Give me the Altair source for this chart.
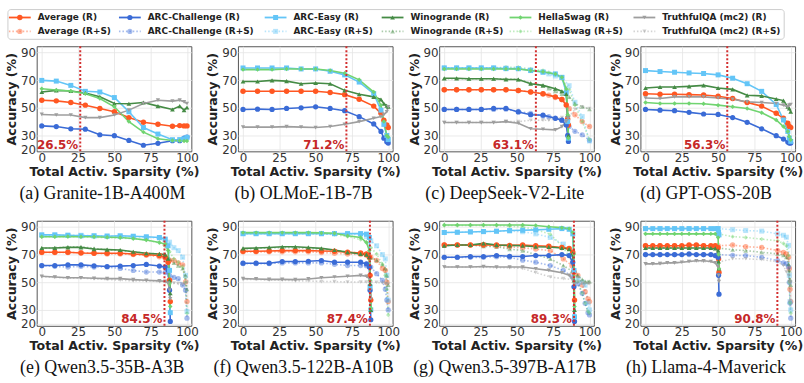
import altair as alt
import pandas as pd

BENCH = ["Average", "ARC-Challenge", "ARC-Easy", "Winogrande", "HellaSwag", "TruthfulQA (mc2)"]
COLORS = ["#ff5722", "#3a6bd6", "#63c5f7", "#458b45", "#70d470", "#9e9e9e"]
SHAPES = ["circle", "circle", "square", "triangle-up", "diamond", "triangle-down"]
SIZES = [30, 18, 18, 22, 24, 22]
VARIANTS = ["R", "R+S"]
RED = "#d32f2f"

# ---------------- (a) Granite-1B-A400M ----------------
A_TITLE = "(a) Granite-1B-A400M"
A_CUT = 26.5
A_X_R = [0, 10, 20, 30, 40, 50, 60, 70, 80, 90, 95, 98, 100]
A_R = {
    "Average":          [55.5, 55.0, 53.8, 51.9, 49.5, 47.1, 42.9, 39.5, 38.1, 36.7, 37.1, 36.9, 36.9],
    "ARC-Challenge":    [36.9, 36.4, 34.8, 34.5, 30.5, 29.8, 26.4, 22.9, 24.3, 26.2, 26.2, 28.1, 28.8],
    "ARC-Easy":         [69.8, 69.3, 66.2, 61.9, 61.4, 57.4, 47.1, 35.7, 31.0, 26.9, 27.0, 27.6, 28.6],
    "Winogrande":       [61.4, 62.6, 62.1, 60.7, 57.9, 53.1, 52.9, 53.8, 51.2, 48.8, 51.2, 48.3, 50.2],
    "HellaSwag":        [63.8, 62.9, 62.1, 60.2, 56.7, 50.7, 40.0, 32.4, 27.6, 26.4, 26.2, 26.0, 26.0],
    "TruthfulQA (mc2)": [45.2, 44.8, 44.8, 42.9, 42.9, 44.8, 48.3, 53.1, 55.5, 54.8, 55.5, 54.3, 53.1],
}
A_X_RS = []
A_RS = None

# ---------------- (b) OLMoE-1B-7B ----------------
B_TITLE = "(b) OLMoE-1B-7B"
B_CUT = 71.2
B_X_R = [0, 10, 20, 30, 40, 50, 60, 70, 80, 90, 95, 97, 99, 100]
B_R = {
    "Average":          [61.9, 61.9, 61.9, 61.9, 61.9, 61.9, 61.0, 59.5, 56.2, 51.2, 46.0, 41.0, 37.6, 35.7],
    "ARC-Challenge":    [48.8, 49.0, 48.8, 49.5, 50.0, 50.7, 49.5, 47.9, 43.6, 38.3, 32.9, 28.0, 25.5, 24.5],
    "ARC-Easy":         [78.8, 78.8, 78.8, 78.8, 78.1, 78.1, 76.4, 73.8, 68.6, 60.2, 48.3, 38.0, 30.0, 27.0],
    "Winogrande":       [69.0, 69.0, 69.8, 69.3, 67.4, 67.9, 67.4, 62.6, 59.8, 57.9, 56.0, 53.0, 51.5, 50.7],
    "HellaSwag":        [77.6, 77.6, 77.6, 78.1, 78.1, 78.1, 76.9, 75.0, 70.2, 61.4, 51.9, 40.0, 30.0, 28.8],
    "TruthfulQA (mc2)": [36.0, 36.0, 36.0, 36.4, 36.0, 35.7, 36.4, 38.1, 40.0, 42.4, 43.6, 45.0, 47.1, 50.7],
}
B_X_RS = []
B_RS = None

# ---------------- (c) DeepSeek-V2-Lite ----------------
C_TITLE = "(c) DeepSeek-V2-Lite"
C_CUT = 63.1
C_X_R = [0, 8.5, 17, 25.5, 34, 42.5, 51, 59.5, 68, 76.5, 81, 84, 85, 85.5]
C_R = {
    "Average":          [63.0, 63.0, 63.0, 63.0, 63.0, 63.0, 62.5, 61.4, 60.2, 57.9, 56.0, 52.0, 42.0, 37.6],
    "ARC-Challenge":    [48.8, 48.8, 48.8, 48.8, 49.5, 49.5, 47.0, 45.0, 44.7, 42.4, 41.0, 37.6, 30.0, 25.7],
    "ARC-Easy":         [78.8, 78.8, 78.8, 78.8, 78.8, 78.3, 78.3, 76.9, 75.7, 74.5, 72.0, 61.0, 40.0, 28.0],
    "Winogrande":       [71.4, 71.4, 71.0, 71.0, 71.0, 70.5, 70.5, 67.4, 66.2, 63.8, 62.0, 60.0, 45.0, 30.0],
    "HellaSwag":        [78.1, 78.1, 78.1, 78.1, 78.1, 78.1, 78.1, 77.0, 76.0, 74.5, 72.0, 63.6, 45.0, 28.0],
    "TruthfulQA (mc2)": [39.3, 39.3, 39.3, 39.3, 39.3, 40.0, 38.8, 34.8, 34.5, 34.0, 36.4, 40.0, 42.4, 42.4],
}
C_X_RS = [0, 8.5, 17, 25.5, 34, 42.5, 51, 59.5, 68, 72, 76.5, 81, 86, 90, 95, 100]
C_RS = {
    "Average":          [63.0, 63.0, 63.0, 63.0, 63.0, 63.0, 62.5, 61.5, 60.0, 59.0, 57.5, 56.0, 49.5, 45.0, 40.0, 36.4],
    "ARC-Challenge":    [48.8, 48.8, 48.8, 48.8, 48.8, 49.0, 47.5, 46.0, 44.0, 43.6, 42.5, 41.0, 36.4, 33.0, 30.5, 26.5],
    "ARC-Easy":         [78.8, 78.8, 78.8, 78.8, 78.8, 78.8, 78.3, 77.5, 76.0, 74.5, 73.0, 72.0, 66.0, 54.0, 43.6, 26.0],
    "Winogrande":       [71.0, 71.0, 71.0, 71.0, 71.0, 71.0, 70.5, 68.0, 66.0, 64.0, 62.0, 60.0, 57.9, 53.0, 50.7, 49.0],
    "HellaSwag":        [79.0, 79.0, 79.0, 79.0, 79.0, 79.3, 79.3, 78.0, 77.0, 75.5, 74.0, 71.0, 63.0, 52.0, 40.0, 27.0],
    "TruthfulQA (mc2)": [39.3, 39.3, 39.3, 39.3, 39.3, 40.0, 40.0, 41.0, 41.0, 41.0, 42.0, 43.0, 43.6, 48.8, 50.7, 49.5],
}

# ---------------- (d) GPT-OSS-20B ----------------
D_TITLE = "(d) GPT-OSS-20B"
D_CUT = 56.3
D_X_R = [0, 10, 20, 30, 40, 50, 60, 70, 80, 90, 95, 98, 99, 100]
D_R = {
    "Average":          [60.2, 59.8, 59.8, 59.5, 59.3, 58.3, 56.7, 53.8, 51.2, 46.0, 42.4, 38.8, 36.4, 35.7],
    "ARC-Challenge":    [48.8, 48.3, 47.9, 46.7, 45.5, 45.2, 42.9, 39.5, 34.8, 29.8, 27.4, 25.2, 24.5, 24.5],
    "ARC-Easy":         [76.9, 76.2, 75.7, 75.2, 74.8, 73.8, 71.4, 67.4, 61.9, 52.4, 41.2, 32.9, 28.1, 25.7],
    "Winogrande":       [64.3, 65.0, 65.0, 65.5, 66.2, 64.3, 63.3, 59.0, 58.6, 56.4, 55.2, 50.7, 49.5, 47.1],
    "HellaSwag":        [53.8, 53.1, 53.1, 53.1, 52.9, 51.9, 50.7, 49.5, 46.4, 41.2, 36.4, 32.9, 29.3, 26.9],
    "TruthfulQA (mc2)": [57.1, 56.7, 57.9, 57.9, 57.9, 57.1, 56.2, 54.3, 53.8, 53.1, 51.9, 50.7, 51.9, 52.4],
}
D_X_RS = []
D_RS = None

# ---------------- (e) Qwen3.5-35B-A3B ----------------
E_TITLE = "(e) Qwen3.5-35B-A3B"
E_CUT = 84.5
E_X_R = [0, 9, 18, 27, 36, 45, 54, 63, 72, 81, 85, 87, 88, 88.5]
E_R = {
    "Average":          [71.7, 71.7, 71.7, 71.2, 71.0, 71.0, 71.0, 70.5, 70.0, 69.3, 68.1, 64.5, 51.4, 36.0],
    "ARC-Challenge":    [62.1, 62.1, 62.6, 62.6, 61.9, 61.4, 61.7, 62.1, 62.9, 61.7, 61.0, 58.6, 44.3, 21.7],
    "ARC-Easy":         [84.3, 84.3, 84.0, 83.6, 83.6, 83.3, 83.6, 83.3, 82.9, 82.4, 81.2, 76.4, 58.6, 28.0],
    "Winogrande":       [74.8, 74.8, 75.2, 75.2, 74.0, 73.6, 73.3, 72.1, 71.0, 70.5, 70.0, 67.0, 51.4, 42.0],
    "HellaSwag":        [82.9, 82.9, 83.1, 82.9, 82.9, 82.6, 82.4, 81.7, 80.5, 78.8, 77.6, 72.9, 49.0, 32.4],
    "TruthfulQA (mc2)": [54.3, 53.8, 53.3, 53.3, 52.9, 52.6, 52.6, 51.9, 51.4, 51.0, 50.7, 49.5, 44.3, 38.0],
}
E_X_RS = [0, 9, 18, 27, 36, 45, 54, 63, 72, 81, 85, 88, 91, 94, 97, 99, 100]
E_RS = {
    "Average":          [71.5, 71.5, 71.5, 71.5, 71.0, 70.5, 70.5, 70.0, 69.5, 68.5, 67.5, 66.0, 65.7, 64.0, 62.6, 50.2, 36.0],
    "ARC-Challenge":    [62.0, 61.5, 61.0, 61.5, 61.0, 61.0, 60.0, 58.5, 57.4, 57.4, 57.0, 55.0, 53.5, 52.6, 48.0, 44.3, 24.0],
    "ARC-Easy":         [84.0, 84.0, 84.0, 84.0, 83.6, 83.6, 83.3, 83.0, 82.5, 82.0, 81.0, 79.0, 75.0, 72.9, 68.1, 55.0, 28.8],
    "Winogrande":       [74.5, 75.0, 75.5, 75.7, 74.5, 73.5, 73.0, 72.0, 71.0, 70.5, 69.5, 67.0, 64.0, 62.0, 60.0, 55.0, 45.0],
    "HellaSwag":        [83.0, 83.0, 83.0, 83.0, 82.5, 82.4, 82.0, 81.5, 80.5, 78.5, 76.0, 72.0, 67.0, 64.5, 61.0, 50.0, 27.6],
    "TruthfulQA (mc2)": [54.0, 53.5, 53.0, 53.0, 52.5, 52.0, 51.5, 51.0, 51.0, 50.5, 50.0, 49.5, 49.5, 49.0, 48.5, 49.0, 50.0],
}

# ---------------- (f) Qwen3.5-122B-A10B ----------------
F_TITLE = "(f) Qwen3.5-122B-A10B"
F_CUT = 87.4
F_X_R = [0, 9, 18, 27, 36, 45, 54, 63, 72, 81, 85, 87, 87.5, 88]
F_R = {
    "Average":          [72.4, 72.4, 72.6, 72.9, 72.9, 72.9, 72.6, 72.4, 71.7, 71.2, 70.5, 68.1, 55.0, 37.1],
    "ARC-Challenge":    [63.8, 63.8, 63.8, 65.0, 65.0, 65.2, 65.7, 64.5, 64.5, 64.5, 63.3, 61.0, 44.3, 22.9],
    "ARC-Easy":         [85.2, 85.2, 85.2, 85.2, 85.2, 85.2, 85.2, 85.2, 85.2, 85.2, 84.8, 82.4, 46.7, 30.0],
    "Winogrande":       [74.5, 74.8, 75.2, 75.7, 75.7, 75.2, 74.5, 73.3, 71.7, 70.5, 70.0, 68.1, 49.0, 30.0],
    "HellaSwag":        [85.9, 85.9, 85.9, 85.9, 85.9, 85.9, 85.7, 85.5, 83.6, 82.4, 78.8, 72.9, 51.4, 31.2],
    "TruthfulQA (mc2)": [52.6, 52.4, 52.1, 52.1, 51.9, 52.4, 53.3, 53.8, 54.3, 55.0, 54.3, 52.6, 44.3, 38.0],
}
F_X_RS = [0, 9, 18, 27, 36, 45, 54, 63, 72, 81, 85, 88, 92, 96, 98, 99, 100]
F_RS = {
    "Average":          [72.0, 72.0, 72.0, 72.0, 72.0, 72.0, 71.5, 71.0, 70.5, 70.0, 69.5, 68.1, 65.7, 60.0, 58.6, 50.0, 36.0],
    "ARC-Challenge":    [63.5, 63.5, 63.5, 64.0, 64.0, 64.0, 64.0, 63.0, 62.1, 62.1, 62.0, 61.0, 56.2, 51.4, 45.0, 37.1, 30.0],
    "ARC-Easy":         [85.0, 85.0, 85.0, 85.0, 85.0, 85.0, 85.0, 85.0, 84.8, 84.5, 83.0, 80.0, 76.4, 70.0, 66.9, 55.0, 37.0],
    "Winogrande":       [74.0, 74.5, 75.0, 75.0, 75.0, 74.5, 74.0, 73.0, 72.0, 71.0, 70.0, 68.0, 66.0, 63.0, 60.0, 55.0, 48.0],
    "HellaSwag":        [85.5, 85.5, 85.5, 85.5, 85.5, 85.5, 85.0, 84.5, 83.0, 81.0, 79.0, 75.2, 70.5, 63.0, 55.0, 45.0, 26.4],
    "TruthfulQA (mc2)": [52.0, 52.0, 51.5, 51.5, 51.0, 51.0, 50.5, 50.5, 50.2, 50.2, 50.2, 50.2, 50.0, 49.5, 49.0, 49.0, 48.5],
}

# ---------------- (g) Qwen3.5-397B-A17B ----------------
G_TITLE = "(g) Qwen3.5-397B-A17B"
G_CUT = 89.3
G_X_R = [0, 9, 18, 27, 36, 45, 54, 63, 72, 81, 86, 88.5, 89.3, 89.7]
G_R = {
    "Average":          [76.9, 76.9, 76.9, 77.1, 76.9, 76.7, 76.9, 76.4, 76.0, 75.2, 74.5, 71.7, 57.4, 37.1],
    "ARC-Challenge":    [68.1, 68.1, 68.6, 68.6, 69.3, 68.8, 68.6, 69.3, 69.3, 70.0, 69.3, 64.5, 46.7, 21.7],
    "ARC-Easy":         [86.0, 86.2, 86.4, 86.7, 86.9, 87.4, 87.6, 87.9, 88.3, 88.8, 88.3, 85.0, 58.6, 25.0],
    "Winogrande":       [76.4, 76.9, 76.9, 78.1, 76.9, 76.7, 76.4, 75.7, 75.5, 74.8, 74.0, 71.0, 51.4, 30.0],
    "HellaSwag":        [91.4, 91.4, 91.4, 91.4, 91.4, 91.4, 91.4, 91.0, 90.2, 89.5, 88.8, 86.0, 70.5, 32.4],
    "TruthfulQA (mc2)": [61.0, 61.0, 61.0, 61.4, 61.0, 61.0, 61.0, 59.8, 58.6, 56.9, 55.0, 52.6, 50.2, 48.0],
}
G_X_RS = [0, 9, 18, 27, 36, 45, 54, 63, 73, 82, 88, 92, 95, 97, 99, 100]
G_RS = {
    "Average":          [77.0, 77.0, 77.0, 76.5, 76.0, 75.5, 75.0, 74.0, 72.9, 66.9, 62.0, 55.0, 48.0, 43.1, 38.0, 36.0],
    "ARC-Challenge":    [68.0, 68.0, 68.0, 68.0, 68.5, 68.0, 66.0, 64.5, 62.1, 58.6, 54.0, 49.0, 42.0, 34.8, 28.0, 26.4],
    "ARC-Easy":         [86.0, 86.0, 86.5, 86.5, 87.0, 87.0, 86.5, 85.0, 82.4, 77.6, 70.0, 52.6, 50.0, 47.9, 35.0, 30.0],
    "Winogrande":       [76.5, 77.0, 77.0, 76.0, 75.7, 74.0, 72.9, 70.0, 66.9, 62.1, 58.0, 55.0, 52.0, 50.5, 50.5, 50.5],
    "HellaSwag":        [91.0, 91.0, 91.0, 91.0, 91.0, 90.5, 90.0, 88.0, 84.8, 75.2, 65.0, 50.5, 42.0, 34.8, 29.0, 27.6],
    "TruthfulQA (mc2)": [61.0, 61.0, 61.0, 61.0, 60.5, 60.5, 60.0, 57.0, 53.8, 52.6, 52.0, 50.2, 49.5, 49.0, 49.0, 49.0],
}

# ---------------- (h) Llama-4-Maverick ----------------
H_TITLE = "(h) Llama-4-Maverick"
H_CUT = 90.8
H_X_R = [0, 5, 10, 15, 20, 25, 30, 35, 40, 45, 48, 50, 50.3, 50.6]
H_R = {
    "Average":          [76.4, 76.4, 76.4, 76.4, 76.4, 76.4, 76.9, 76.9, 76.4, 76.4, 76.4, 75.0, 67.0, 57.0],
    "ARC-Challenge":    [70.0, 70.0, 70.0, 70.0, 70.0, 70.0, 70.5, 70.0, 70.0, 70.0, 69.3, 68.0, 55.0, 41.4],
    "ARC-Easy":         [88.8, 88.8, 88.8, 88.8, 88.8, 88.8, 88.8, 88.8, 88.8, 88.8, 88.8, 88.8, 86.0, 84.3],
    "Winogrande":       [74.8, 74.8, 74.8, 74.8, 74.8, 74.8, 74.8, 74.8, 74.8, 74.8, 74.5, 73.0, 65.0, 60.0],
    "HellaSwag":        [85.0, 85.0, 85.0, 85.0, 85.0, 85.0, 85.0, 85.0, 85.0, 85.0, 85.0, 82.4, 70.0, 60.0],
    "TruthfulQA (mc2)": [63.3, 63.3, 63.5, 64.0, 64.0, 64.5, 65.0, 65.5, 65.5, 65.0, 64.0, 61.0, 55.0, 50.5],
}
H_X_RS = [0, 10, 20, 30, 40, 50, 60, 69, 80, 91, 95, 97, 98.5, 99, 99.5, 100]
H_RS = {
    "Average":          [76.4, 76.4, 76.4, 76.4, 76.4, 76.4, 76.9, 75.7, 75.2, 72.9, 71.5, 70.5, 68.1, 60.0, 45.0, 36.0],
    "ARC-Challenge":    [70.0, 70.0, 70.0, 70.0, 70.0, 70.0, 69.5, 69.3, 68.1, 65.7, 64.0, 63.3, 61.0, 50.0, 35.0, 24.0],
    "ARC-Easy":         [88.8, 88.8, 88.8, 88.8, 88.8, 88.8, 88.0, 87.4, 87.0, 85.0, 84.0, 82.6, 76.7, 55.0, 36.0, 30.0],
    "Winogrande":       [74.8, 74.8, 74.8, 74.8, 74.8, 74.8, 73.5, 72.9, 71.7, 70.5, 69.5, 68.1, 63.0, 58.6, 52.0, 48.0],
    "HellaSwag":        [85.0, 85.0, 85.0, 85.0, 85.0, 85.0, 83.0, 82.4, 81.2, 80.0, 78.0, 76.4, 69.3, 50.0, 35.0, 27.6],
    "TruthfulQA (mc2)": [63.3, 63.5, 64.0, 65.0, 65.0, 64.5, 67.0, 67.0, 66.4, 64.8, 62.0, 57.6, 55.0, 50.5, 50.0, 50.0],
}

PANELS = [
    (A_TITLE, A_CUT, A_X_R, A_R, A_X_RS, A_RS),
    (B_TITLE, B_CUT, B_X_R, B_R, B_X_RS, B_RS),
    (C_TITLE, C_CUT, C_X_R, C_R, C_X_RS, C_RS),
    (D_TITLE, D_CUT, D_X_R, D_R, D_X_RS, D_RS),
    (E_TITLE, E_CUT, E_X_R, E_R, E_X_RS, E_RS),
    (F_TITLE, F_CUT, F_X_R, F_R, F_X_RS, F_RS),
    (G_TITLE, G_CUT, G_X_R, G_R, G_X_RS, G_RS),
    (H_TITLE, H_CUT, H_X_R, H_R, H_X_RS, H_RS),
]

# layout (not data)
PW, PH = 156, 106
LEG_BOX_W, LEG_H = 783, 30      # legend box size
LEG_SHIFT = -29                 # box left edge relative to the first panel's plot origin
LEG_COL_X = [1, 112, 259, 377, 506, 631]
LEG_ROW_Y = [8, 22]
LABEL_Y = 20.4                  # baseline of the cut-off label, in axis units

XS = alt.Scale(domain=[-3.5, 103], nice=False, zero=False)
YS = alt.Scale(domain=[18.5, 94.5], nice=False, zero=False)
COL = alt.Color("bench:N", scale=alt.Scale(domain=BENCH, range=COLORS), legend=None)
SHP = alt.Shape("bench:N", scale=alt.Scale(domain=BENCH, range=SHAPES), legend=None)
SIZ = alt.Size("bench:N", scale=alt.Scale(domain=BENCH, range=SIZES), legend=None)
X_AX = alt.Axis(values=[0, 25, 50, 75, 100], title="Total Activ. Sparsity (%)", labelOverlap=False)
Y_AX = alt.Axis(values=[20, 30, 50, 70, 90], title="Accuracy (%)", labelOverlap=False)


def to_df(xv, d, variant):
    rows = []
    for b in BENCH:
        ys = d[b]
        assert len(ys) == len(xv), (b, variant, len(ys), len(xv))
        for x, y in zip(xv, ys):
            rows.append({"x": x, "y": y, "bench": b, "variant": variant})
    return pd.DataFrame(rows)


def make_panel(title, cut, xr, dr, xs, ds):
    X = alt.X("x:Q", scale=XS, axis=X_AX)
    Y = alt.Y("y:Q", scale=YS, axis=Y_AX)
    layers = []
    groups = []
    if ds is not None:
        groups.append((to_df(xs, ds, "R+S"), 0.45, [1.5, 2]))
    groups.append((to_df(xr, dr, "R"), 1.0, None))
    for df, op, dash in groups:
        base = alt.Chart(df)
        if dash:
            ln = base.mark_line(strokeWidth=1.6, opacity=op, strokeDash=dash)
        else:
            ln = base.mark_line(strokeWidth=1.6, opacity=op)
        layers.append(ln.encode(x=X, y=Y, color=COL, detail="bench:N"))
        layers.append(base.mark_point(filled=True, opacity=op).encode(x=X, y=Y, color=COL, shape=SHP, size=SIZ))
    cdf = pd.DataFrame({"x": [cut], "y": [LABEL_Y], "lab": [f"{cut:.1f}%"]})
    layers.append(alt.Chart(cdf).mark_rule(color=RED, strokeWidth=2, strokeDash=[2, 2]).encode(x=X))
    layers.append(alt.Chart(cdf).mark_text(color="#c62828", font="DejaVu Sans", fontSize=12, fontWeight="bold",
                                           align="right", baseline="alphabetic", dx=-2)
                  .encode(x=X, y=Y, text="lab:N"))
    return alt.layer(*layers).properties(
        width=PW, height=PH,
        title=alt.TitleParams(title, orient="bottom", font="Liberation Serif", fontSize=18, fontWeight="normal",
                              color="#111", anchor="middle", frame="bounds", offset=7),
    )


# ---------------- legend ----------------
leg_rows = []
for i, b in enumerate(BENCH):
    for j, v in enumerate(VARIANTS):
        leg_rows.append({"bench": b, "variant": v, "label": f"{b} ({v})",
                         "x0": LEG_COL_X[i], "x1": LEG_COL_X[i] + 22, "xm": LEG_COL_X[i] + 11,
                         "xt": LEG_COL_X[i] + 29, "yy": LEG_ROW_Y[j]})
leg_df = pd.DataFrame(leg_rows)
LX = alt.Scale(domain=[0, LEG_BOX_W], range=[LEG_SHIFT, LEG_SHIFT + LEG_BOX_W])
LY = alt.Scale(domain=[0, LEG_H], range=[0, LEG_H])
leg_layers = [
    alt.Chart(pd.DataFrame({"a": [0]})).mark_rect(fillOpacity=0, stroke="#cccccc", strokeWidth=1, cornerRadius=3)
    .encode(x=alt.value(LEG_SHIFT), x2=alt.value(LEG_SHIFT + LEG_BOX_W), y=alt.value(0), y2=alt.value(LEG_H)),
]
for v, op, dash in (("R", 1.0, None), ("R+S", 0.45, [1.5, 2])):
    sub = leg_df[leg_df.variant == v]
    base = alt.Chart(sub)
    rl = base.mark_rule(strokeWidth=1.8, opacity=op, strokeDash=dash) if dash else base.mark_rule(strokeWidth=1.8, opacity=op)
    leg_layers.append(rl.encode(x=alt.X("x0:Q", scale=LX, axis=None), x2="x1:Q",
                                y=alt.Y("yy:Q", scale=LY, axis=None), color=COL))
    leg_layers.append(base.mark_point(filled=True, opacity=op).encode(
        x=alt.X("xm:Q", scale=LX, axis=None), y=alt.Y("yy:Q", scale=LY, axis=None), color=COL, shape=SHP, size=SIZ))
leg_layers.append(alt.Chart(leg_df).mark_text(align="left", baseline="middle", font="DejaVu Sans", fontSize=9,
                                              fontWeight="bold", color="#222")
                  .encode(x=alt.X("xt:Q", scale=LX, axis=None), y=alt.Y("yy:Q", scale=LY, axis=None), text="label:N"))
legend = alt.layer(*leg_layers).properties(width=700, height=LEG_H,
                                           view=alt.ViewBackground(stroke="transparent"))

panels = [make_panel(*p) for p in PANELS]
row1 = alt.hconcat(*panels[:4], spacing=6)
row2 = alt.hconcat(*panels[4:], spacing=6)
rows = alt.concat(row1, row2, columns=1, align="none", spacing=15)

chart = alt.concat(legend, rows, columns=1, align="none", spacing=4).properties(
    padding={"left": 5, "top": 7, "right": 0, "bottom": 0}
).configure_axis(
    labelFont="DejaVu Sans", labelFontSize=12, labelColor="#333",
    titleFont="DejaVu Sans", titleFontSize=12.7, titleFontWeight="bold", titleColor="#222",
    grid=True, gridColor="#e4e4e4", gridWidth=0.8, domain=False, ticks=False,
    labelPadding=1, titlePadding=2, labelOverlap=False,
).configure_view(stroke="#555", strokeWidth=1)

chart.save("out.html", embed_options={"renderer": "svg", "actions": False})
